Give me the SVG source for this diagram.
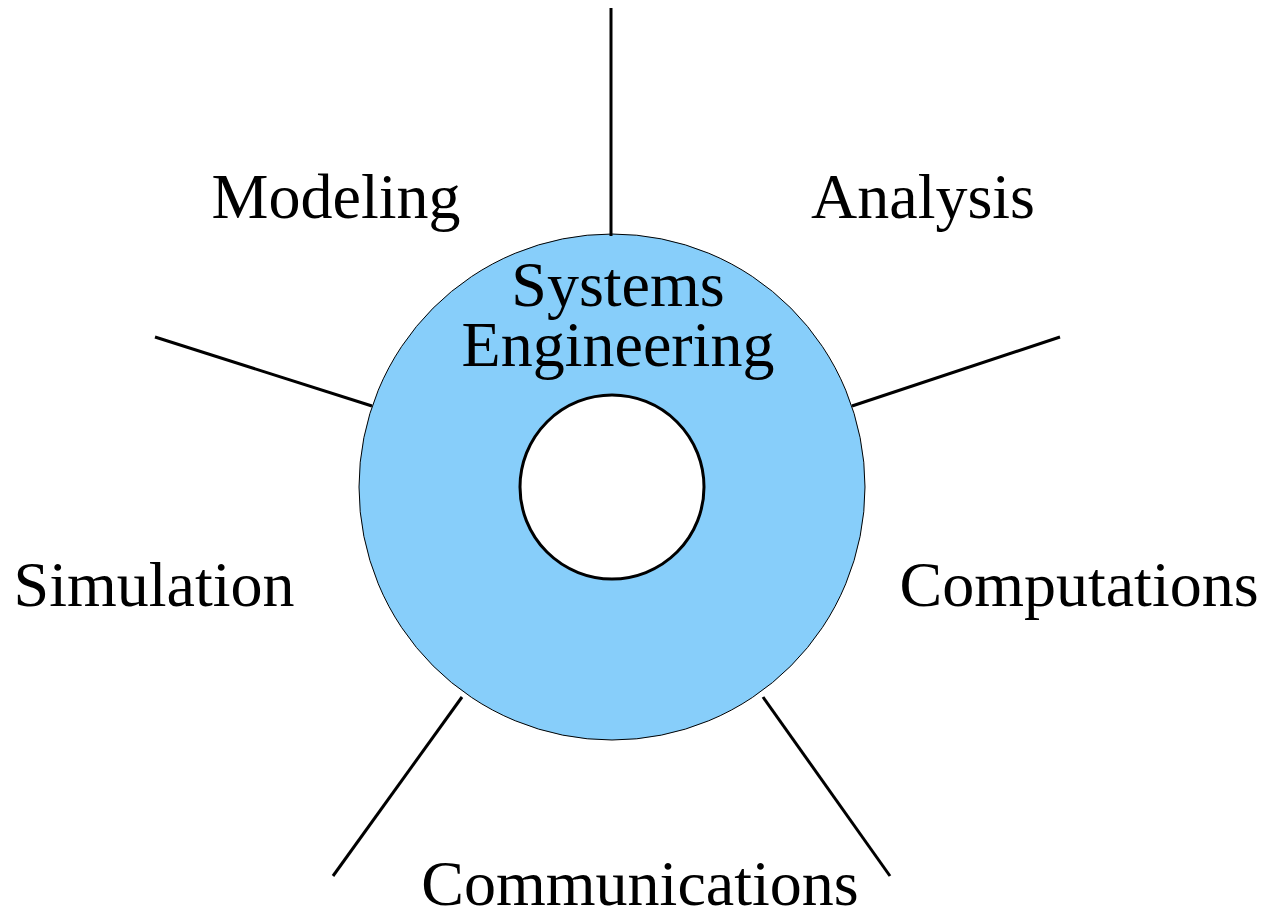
<svg xmlns="http://www.w3.org/2000/svg" width="1266" height="913" viewBox="0 0 1266 913">
<style>
.lbl{font-family:"Liberation Serif","Times New Roman",serif;font-size:64px;fill:#000;text-anchor:middle}
.conn{stroke:#000;stroke-width:3;fill:none}
</style>
<rect width="1266" height="913" fill="#fff"/>
<g id="hub">
<circle cx="612" cy="487" r="253" fill="#87CEFA" stroke="#000" stroke-width="1"/>
<circle cx="612" cy="487" r="92" fill="#fff" stroke="#000" stroke-width="3"/>
<text class="lbl" x="618" y="306">Systems</text>
<text class="lbl" x="618" y="366">Engineering</text>
</g>
<g id="connectors">
<line class="conn" x1="611" y1="8" x2="611" y2="236"/>
<line class="conn" x1="852" y1="406" x2="1060" y2="337"/>
<line class="conn" x1="155" y1="337" x2="372" y2="406"/>
<line class="conn" x1="763" y1="697" x2="890" y2="876"/>
<line class="conn" x1="462" y1="697" x2="333" y2="876"/>
</g>
<g id="modeling"><text class="lbl" x="336" y="218">Modeling</text></g>
<g id="analysis"><text class="lbl" x="923" y="218">Analysis</text></g>
<g id="simulation"><text class="lbl" x="154" y="606">Simulation</text></g>
<g id="computations"><text class="lbl" x="1079" y="606">Computations</text></g>
<g id="communications"><text class="lbl" x="640" y="905">Communications</text></g>
</svg>
